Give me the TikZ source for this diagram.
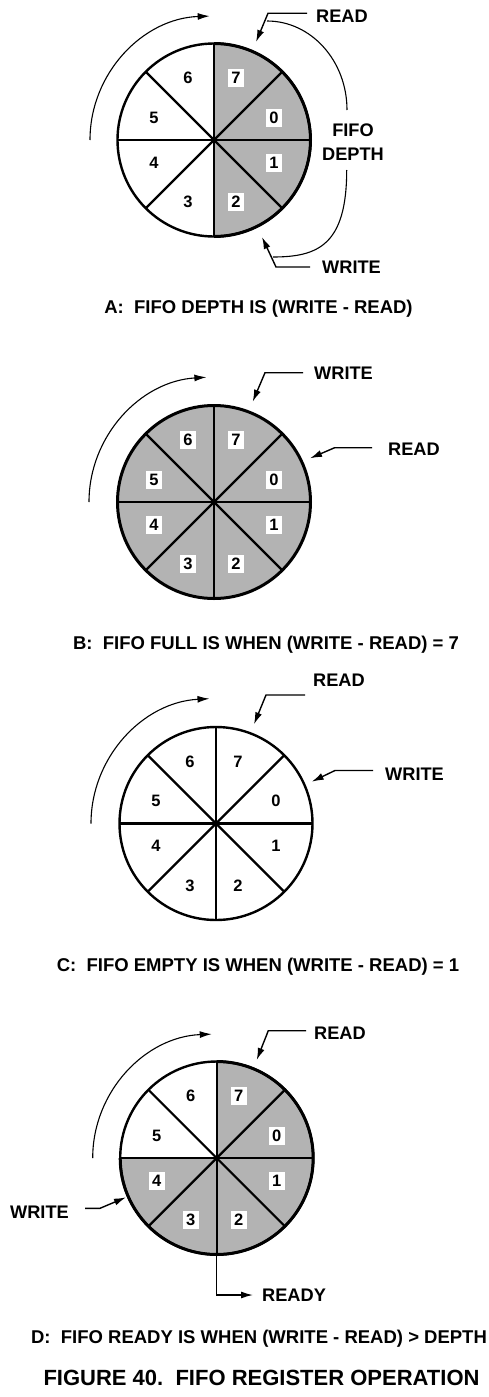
\documentclass[tikz,border=0pt]{standalone}
\usepackage{fontspec}
\setmainfont{Liberation Sans}
\usetikzlibrary{arrows.meta}
\definecolor{fifogray}{RGB}{179,179,179}

\begin{document}
\begin{tikzpicture}[x=1pt,y=1pt,
  lbl/.style={font=\fontsize{18.2}{24}\selectfont\bfseries, inner sep=0pt},
  captxt/.style={font=\fontsize{18.5}{22}\selectfont\bfseries, inner sep=0pt, anchor=base},
  num/.style={font=\fontsize{16.5}{18}\selectfont\bfseries, inner sep=0pt, minimum width=16pt, minimum height=18pt},
  numbox/.style={num, fill=white},
  spoke/.style={line width=2.2pt},
  rim/.style={line width=2.4pt},
  rimfull/.style={line width=3pt},
  turn/.style={line width=1.1pt, -{Latex[length=12pt,width=7pt]}},
  ptr/.style={line width=1.4pt, -{Latex[length=12pt,width=7pt]}},
  brace/.style={line width=1.1pt}]

\useasboundingbox (0,0) rectangle (489,-1397);

%A
  \coordinate (AlO) at (214,-140);
  \coordinate (AlR) at (256,-42);
  \coordinate (AlW) at (262,-237);
  \coordinate (AlT) at (267,-21);
  \coordinate (AlB) at (346.7,-170);
  \coordinate (AlE) at (273,-257);
  \fill[fifogray] (AlO) -- ++(90:96.5) arc (90:-90:96.5) -- cycle;
  \draw[spoke] (AlO) +(90:96.5) -- +(270:96.5);
  \draw[spoke] (AlO) +(0:96.5) -- +(180:96.5);
  \draw[spoke] (AlO) +(45:96.5) -- +(225:96.5);
  \draw[spoke] (AlO) +(135:96.5) -- +(315:96.5);
  \draw[rim] (AlO) circle (96.5);
  \draw[rimfull] (AlO) ++(90:96.5) arc (90:-90:96.5);
  \node[numbox] (Al7) at ([shift={(22,62)}]AlO) {7};
  \node[numbox] (Al0) at ([shift={(60,22.5)}]AlO) {0};
  \node[numbox] (Al1) at ([shift={(60,-22.5)}]AlO) {1};
  \node[numbox] (Al2) at ([shift={(22,-62)}]AlO) {2};
  \node[num] (Al3) at ([shift={(-26,-62)}]AlO) {3};
  \node[num] (Al4) at ([shift={(-60,-22.5)}]AlO) {4};
  \node[num] (Al5) at ([shift={(-60,22.5)}]AlO) {5};
  \node[num] (Al6) at ([shift={(-26,62)}]AlO) {6};
  \draw[turn] (AlO) ++(180:124) arc (180:92:124);
  \node[lbl, anchor=west] (AlRd) at (316,-16.3) {READ};
  \draw[ptr] ([shift={(-9,3)}]AlRd.west) -- ++(-39,0) -- (AlR);
  \node[lbl, align=center] (AlDp) at (353,-142) {FIFO\\DEPTH};
  \draw[brace] (AlT) arc (90:0:80 and 89);
  \draw[brace] (AlB) .. controls (346.7,-245) and (318,-257) .. (AlE);
  \node[lbl, anchor=west] (AlWr) at (322,-267) {WRITE};
  \draw[ptr] ([xshift=-12]AlWr.west) -- ++(-34,0) -- (AlW);
  \node[captxt] (AlCap) at (258.5,-313) {A:\ \ FIFO DEPTH IS (WRITE - READ)};

%B
  \coordinate (BlO) at (214,-502);
  \coordinate (BlW) at (252.7,-401.7);
  \coordinate (BlR) at (310,-458.3);
  \fill[fifogray] (BlO) circle (96.5);
  \draw[spoke] (BlO) +(90:96.5) -- +(270:96.5);
  \draw[spoke] (BlO) +(0:96.5) -- +(180:96.5);
  \draw[spoke] (BlO) +(45:96.5) -- +(225:96.5);
  \draw[spoke] (BlO) +(135:96.5) -- +(315:96.5);
  \draw[rimfull] (BlO) circle (96.5);
  \node[numbox] (Bl7) at ([shift={(22,62)}]BlO) {7};
  \node[numbox] (Bl0) at ([shift={(60,22.5)}]BlO) {0};
  \node[numbox] (Bl1) at ([shift={(60,-22.5)}]BlO) {1};
  \node[numbox] (Bl2) at ([shift={(22,-62)}]BlO) {2};
  \node[numbox] (Bl3) at ([shift={(-26,-62)}]BlO) {3};
  \node[numbox] (Bl4) at ([shift={(-60,-22.5)}]BlO) {4};
  \node[numbox] (Bl5) at ([shift={(-60,22.5)}]BlO) {5};
  \node[numbox] (Bl6) at ([shift={(-26,62)}]BlO) {6};
  \draw[turn] (BlO) ++(180:125) arc (180:93.5:125);
  \node[lbl, anchor=west] (BlWr) at (314,-373) {WRITE};
  \draw[ptr] ([shift={(-11,0.3)}]BlWr.west) -- ++(-38,0) -- (BlW);
  \node[lbl, anchor=west] (BlRd) at (388,-449.3) {READ};
  \draw[ptr] ([shift={(-16,1.6)}]BlRd.west) -- ++(-37.3,0) -- (BlR);
  \node[captxt] (BlCap) at (266,-649) {B:\ \ FIFO FULL IS WHEN (WRITE - READ) = 7};

%C
  \coordinate (ClO) at (216,-823.5);
  \coordinate (ClR) at (254,-724.3);
  \coordinate (ClW) at (311.7,-781.7);
  \draw[spoke] (ClO) +(90:96.5) -- +(270:96.5);
  \draw[spoke] (ClO) +(0:96.5) -- +(180:96.5);
  \draw[spoke] (ClO) +(45:96.5) -- +(225:96.5);
  \draw[spoke] (ClO) +(135:96.5) -- +(315:96.5);
  \draw[rim] (ClO) circle (96.5);
  \node[num] (Cl7) at ([shift={(22,62)}]ClO) {7};
  \node[num] (Cl0) at ([shift={(60,22.5)}]ClO) {0};
  \node[num] (Cl1) at ([shift={(60,-22.5)}]ClO) {1};
  \node[num] (Cl2) at ([shift={(22,-62)}]ClO) {2};
  \node[num] (Cl3) at ([shift={(-26,-62)}]ClO) {3};
  \node[num] (Cl4) at ([shift={(-60,-22.5)}]ClO) {4};
  \node[num] (Cl5) at ([shift={(-60,22.5)}]ClO) {5};
  \node[num] (Cl6) at ([shift={(-26,62)}]ClO) {6};
  \draw[turn] (ClO) ++(180:125) arc (180:93:125);
  \node[lbl, anchor=west] (ClRd) at (313,-680.7) {READ};
  \draw[ptr] ([shift={(-8,-14.3)}]ClRd.west) -- ++(-39,0) -- (ClR);
  \node[lbl, anchor=west] (ClWr) at (385,-774.5) {WRITE};
  \draw[ptr] ([shift={(-12,4)}]ClWr.west) -- ++(-38,0) -- (ClW);
  \node[captxt] (ClCap) at (258,-971.5) {C:\ \ FIFO EMPTY IS WHEN (WRITE - READ) = 1};

%D
  \coordinate (DlO) at (216.7,-1158);
  \coordinate (DlR) at (256.7,-1060);
  \coordinate (DlW) at (126,-1197.3);
  \coordinate (DlY) at (216.7,-1254.5);
  \fill[fifogray] (DlO) -- ++(90:96.5) arc (90:-180:96.5) -- cycle;
  \draw[spoke] (DlO) +(90:96.5) -- +(270:96.5);
  \draw[spoke] (DlO) +(0:96.5) -- +(180:96.5);
  \draw[spoke] (DlO) +(45:96.5) -- +(225:96.5);
  \draw[spoke] (DlO) +(135:96.5) -- +(315:96.5);
  \draw[rim] (DlO) circle (96.5);
  \draw[rimfull] (DlO) ++(90:96.5) arc (90:-180:96.5);
  \node[numbox] (Dl7) at ([shift={(22,62)}]DlO) {7};
  \node[numbox] (Dl0) at ([shift={(60,22.5)}]DlO) {0};
  \node[numbox] (Dl1) at ([shift={(60,-22.5)}]DlO) {1};
  \node[numbox] (Dl2) at ([shift={(22,-62)}]DlO) {2};
  \node[numbox] (Dl3) at ([shift={(-26,-62)}]DlO) {3};
  \node[numbox] (Dl4) at ([shift={(-60,-22.5)}]DlO) {4};
  \node[num] (Dl5) at ([shift={(-60,22.5)}]DlO) {5};
  \node[num] (Dl6) at ([shift={(-26,62)}]DlO) {6};
  \draw[turn] (DlO) ++(180:124) arc (180:92.3:124);
  \node[lbl, anchor=west] (DlRd) at (314,-1033.3) {READ};
  \draw[ptr] ([shift={(-8,2.6)}]DlRd.west) -- ++(-37.7,0) -- (DlR);
  \node[lbl, anchor=east] (DlWr) at (69,-1212.7) {WRITE};
  \draw[ptr] ([shift={(16,4.4)}]DlWr.east) -- ++(15,0) -- (DlW);
  \node[lbl, anchor=west] (DlRdy) at (262,-1295) {READY};
  \draw[ptr] (DlY) |- ([xshift=-9]DlRdy.west);
  \node[captxt] (DlCap) at (259,-1343) {D:\ \ FIFO READY IS WHEN (WRITE - READ) > DEPTH};

  \node[captxt, font=\fontsize{22}{26}\selectfont\bfseries] (FigCap) at (261.5,-1385) {FIGURE 40.\ \ FIFO REGISTER OPERATION};

\end{tikzpicture}
\end{document}
